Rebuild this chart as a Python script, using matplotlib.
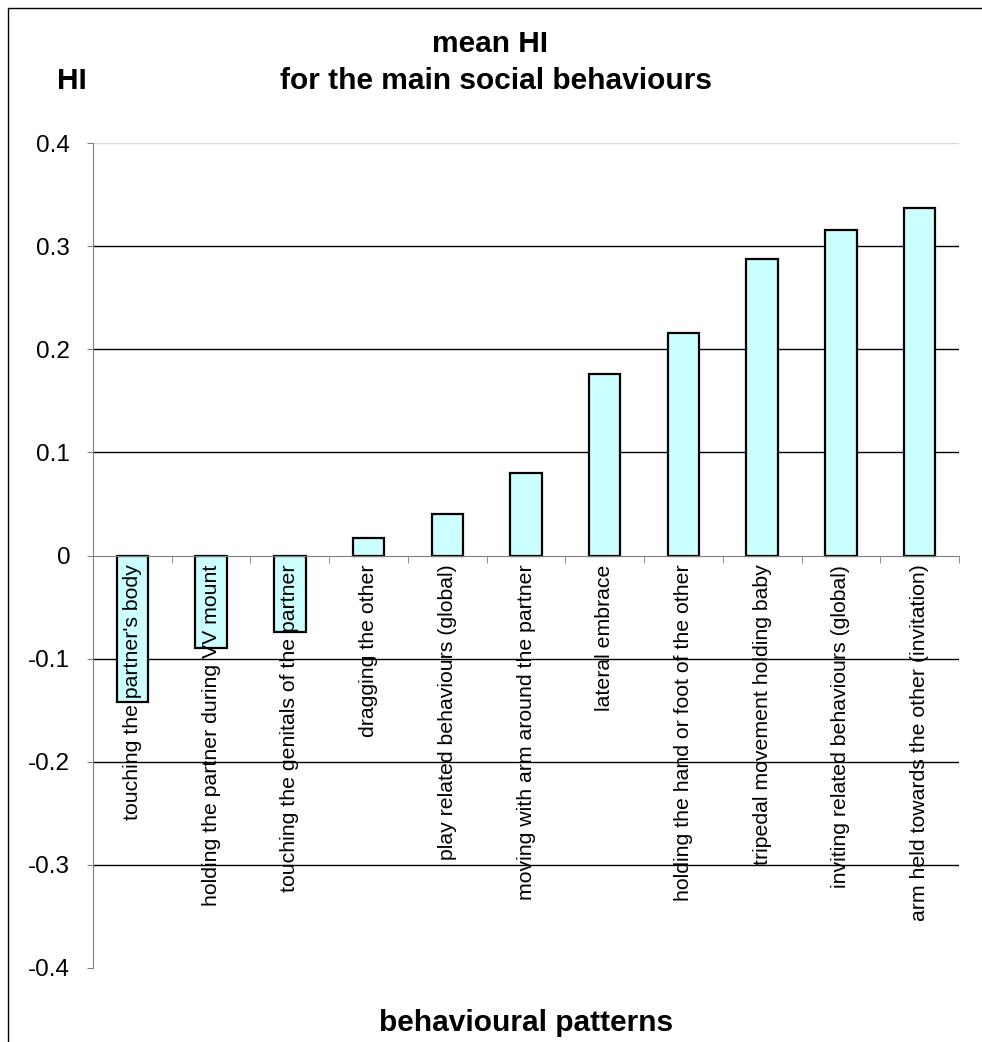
import matplotlib
matplotlib.use("Agg")
import matplotlib.pyplot as plt
import numpy as np
from matplotlib.patches import Rectangle

categories = [
    "touching the partner's body",
    "holding the partner during VV mount",
    "touching the genitals of the partner",
    "dragging the other",
    "play related behaviours (global)",
    "moving with arm around the partner",
    "lateral embrace",
    "holding the hand or foot of the other",
    "tripedal movement holding baby",
    "inviting related behaviours (global)",
    "arm held towards the other (invitation)",
]
hi_values = [-0.142, -0.090, -0.074, 0.017, 0.040, 0.080, 0.176, 0.216, 0.288, 0.316, 0.337]
y_ticks = [-0.4, -0.3, -0.2, -0.1, 0, 0.1, 0.2, 0.3, 0.4]
y_ticklabels = ["-0.4", "-0.3", "-0.2", "-0.1", "0", "0.1", "0.2", "0.3", "0.4"]

plt.rcParams['font.family'] = ['Liberation Sans', 'DejaVu Sans']

W, H = 982, 1042
fig = plt.figure(figsize=(W / 100, H / 100), dpi=100)
fig.patch.set_facecolor("white")

# outer chart border (top and left visible)
fig.add_artist(Rectangle((8 / W, -0.1), 1.2, (H - 8) / H + 0.1, transform=fig.transFigure,
                         fill=False, edgecolor="black", linewidth=1.0))

ax = fig.add_axes([93 / W, 1 - 968 / H, (959 - 93) / W, (968 - 143) / H])
n = len(categories)
x = np.arange(n)
ax.set_xlim(-0.5, n - 0.5)
ax.set_ylim(-0.4, 0.4)

# gridlines
for t in y_ticks:
    if t == 0 or t == -0.4:
        continue
    col = "#d8d8d8" if t == 0.4 else "black"
    ax.axhline(t, color=col, linewidth=1.0, zorder=1)

ax.bar(x, hi_values, width=0.4, color="#CCFFFF", edgecolor="black", linewidth=1.6, zorder=3)

for s in ["top", "right"]:
    ax.spines[s].set_visible(False)
ax.spines["left"].set_color("#808080")
ax.spines["bottom"].set_color("#808080")
ax.spines["bottom"].set_position(("data", 0))
ax.spines["bottom"].set_zorder(4)

ax.set_yticks(y_ticks)
ax.set_yticklabels(y_ticklabels, fontsize=17.5)
ax.tick_params(axis="y", direction="out", length=4.3, color="#808080", pad=12)

ax.set_xticks(x)
ax.set_xticklabels(categories, rotation=90, fontsize=15.3, va="top", ha="center")
ax.set_xticks(np.arange(-0.5, n, 1.0), minor=True)
ax.tick_params(axis="x", which="major", length=0, pad=6.5)
ax.tick_params(axis="x", which="minor", direction="out", length=5, color="#808080")
ax.xaxis.set_zorder(5)

fig.text(490 / W, 1 - 52 / H, "mean HI", ha="center", va="baseline", fontsize=21.5, fontweight="bold")
fig.text(496 / W, 1 - 89 / H, "for the main social behaviours", ha="center", va="baseline",
         fontsize=21.5, fontweight="bold")
fig.text(72 / W, 1 - 89 / H, "HI", ha="center", va="baseline", fontsize=21.5, fontweight="bold")
fig.text(526 / W, 1 - 1031 / H, "behavioural patterns", ha="center", va="baseline",
         fontsize=21.5, fontweight="bold")

fig.savefig("out.png", dpi=100)
